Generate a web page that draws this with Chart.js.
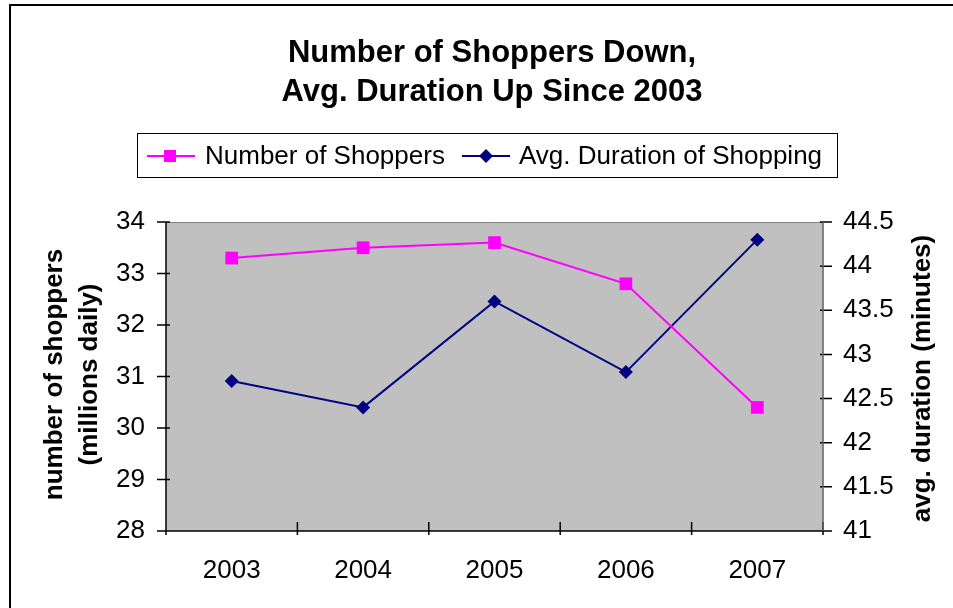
<!DOCTYPE html>
<html>
<head>
<meta charset="utf-8">
<script src="https://cdn.jsdelivr.net/npm/chart.js@4.4.0/dist/chart.umd.min.js"></script>
<style>
  html, body { margin: 0; padding: 0; background: #fff; }
  canvas { display: block; }
</style>
</head>
<body>
<canvas id="chart" width="953" height="608"></canvas>
<script>
// values
const years = ['2003', '2004', '2005', '2006', '2007'];
const shoppers = [33.3, 33.5, 33.6, 32.8, 30.4];      // millions daily, left axis
const duration = [42.7, 42.4, 43.6, 42.8, 44.3];      // minutes, right axis
const titleLines = ['Number of Shoppers Down,', 'Avg. Duration Up Since 2003'];
const leftTitle = ['number of shoppers', '(millions daily)'];
const rightTitle = 'avg. duration (minutes)';

const FONT = '"Liberation Sans", Arial, sans-serif';
const PINK = '#FF00FF';
const NAVY = '#000080';

// frame, gray plot area, axes and tick marks
const plotFrame = {
  id: 'plotFrame',
  beforeDatasetsDraw(chart) {
    const { ctx, chartArea: a, scales } = chart;
    ctx.save();
    ctx.fillStyle = '#C0C0C0';
    ctx.fillRect(a.left, a.top, a.right - a.left, a.bottom - a.top);

    ctx.lineWidth = 1;
    ctx.strokeStyle = '#808080';
    ctx.beginPath();
    ctx.moveTo(a.left, a.top + 0.5); ctx.lineTo(a.right, a.top + 0.5);
    ctx.stroke();

    ctx.strokeStyle = '#000';
    ctx.lineWidth = 1.5;
    ctx.beginPath();
    ctx.moveTo(a.left, a.top); ctx.lineTo(a.left, a.bottom);
    ctx.moveTo(a.left, a.bottom); ctx.lineTo(a.right, a.bottom);
    scales.y.ticks.forEach(t => {
      const y = scales.y.getPixelForValue(t.value);
      ctx.moveTo(a.left - 9, y); ctx.lineTo(a.left + 4, y);
    });
    scales.y1.ticks.forEach(t => {
      const y = scales.y1.getPixelForValue(t.value);
      ctx.moveTo(a.right - 3, y); ctx.lineTo(a.right + 9, y);
    });
    for (let i = 0; i <= years.length; i++) {
      const x = a.left + (a.right - a.left) * i / years.length;
      ctx.moveTo(x, a.bottom - 9); ctx.lineTo(x, a.bottom + 4);
    }
    ctx.stroke();

    ctx.strokeStyle = '#606060';
    ctx.beginPath();
    ctx.moveTo(a.right, a.top); ctx.lineTo(a.right, a.bottom);
    ctx.stroke();
    ctx.restore();
  },
  afterDraw(chart) {
    const { ctx, chartArea: a } = chart;
    ctx.save();
    // outer frame (only left and top visible)
    ctx.strokeStyle = '#000';
    ctx.lineWidth = 2;
    ctx.beginPath();
    ctx.moveTo(10, 608); ctx.lineTo(10, 5); ctx.lineTo(953, 5);
    ctx.stroke();

    // title
    ctx.fillStyle = '#000';
    ctx.textAlign = 'center';
    ctx.textBaseline = 'alphabetic';
    ctx.font = 'bold 31px ' + FONT;
    ctx.fillText(titleLines[0], 492, 62);
    ctx.fillText(titleLines[1], 492, 101);

    // legend
    ctx.lineWidth = 1;
    ctx.strokeRect(137.5, 133.5, 700, 44);
    ctx.font = '26px ' + FONT;
    ctx.textAlign = 'left';
    ctx.textBaseline = 'middle';
    ctx.lineWidth = 2;
    ctx.strokeStyle = PINK;
    ctx.beginPath(); ctx.moveTo(147, 156); ctx.lineTo(195, 156); ctx.stroke();
    ctx.fillStyle = PINK;
    ctx.fillRect(164, 150, 12, 12);
    ctx.fillStyle = '#000';
    ctx.fillText(chart.data.datasets[0].label, 205, 157);
    ctx.strokeStyle = NAVY;
    ctx.beginPath(); ctx.moveTo(462, 156); ctx.lineTo(510, 156); ctx.stroke();
    ctx.fillStyle = NAVY;
    ctx.beginPath();
    ctx.moveTo(486, 149); ctx.lineTo(493, 156); ctx.lineTo(486, 163); ctx.lineTo(479, 156);
    ctx.closePath(); ctx.fill();
    ctx.fillStyle = '#000';
    ctx.fillText(chart.data.datasets[1].label, 519, 157);

    // axis titles, both reading bottom to top
    ctx.font = 'bold 26px ' + FONT;
    ctx.textAlign = 'center';
    const midY = (a.top + a.bottom) / 2;
    ctx.save();
    ctx.translate(55, midY - 2);
    ctx.rotate(-Math.PI / 2);
    ctx.fillText(leftTitle[0], 0, 0);
    ctx.fillText(leftTitle[1], 0, 35);
    ctx.restore();
    ctx.save();
    ctx.translate(923, midY + 2);
    ctx.rotate(-Math.PI / 2);
    ctx.fillText(rightTitle, 0, 0);
    ctx.restore();
    ctx.restore();
  }
};

const tickFont = { family: FONT, size: 26 };

new Chart(document.getElementById('chart'), {
  type: 'line',
  data: {
    labels: years,
    datasets: [
      {
        label: 'Number of Shoppers', data: shoppers, yAxisID: 'y',
        borderColor: PINK, backgroundColor: PINK, borderWidth: 2,
        pointStyle: 'rect', pointRadius: 9, pointBorderWidth: 0, tension: 0,
      },
      {
        label: 'Avg. Duration of Shopping', data: duration, yAxisID: 'y1',
        borderColor: NAVY, backgroundColor: NAVY, borderWidth: 2,
        pointStyle: 'rectRot', pointRadius: 7, pointBorderWidth: 0, tension: 0,
      },
    ],
  },
  options: {
    responsive: false,
    animation: false,
    layout: { padding: { top: 222, left: 0, right: 0, bottom: 0 } },
    plugins: { legend: { display: false }, title: { display: false }, tooltip: { enabled: false } },
    scales: {
      x: {
        offset: true,
        grid: { display: false, drawTicks: false },
        border: { display: false },
        ticks: { color: '#000', font: tickFont, padding: 24, maxRotation: 0 },
        afterFit(s) { s.height = 77; },
      },
      y: {
        position: 'left', min: 28, max: 34,
        grid: { display: false, drawTicks: false },
        border: { display: false },
        ticks: { stepSize: 1, color: '#000', font: tickFont, padding: 21 },
        afterFit(s) { s.width = 166; },
      },
      y1: {
        position: 'right', min: 41, max: 44.5,
        grid: { display: false, drawTicks: false },
        border: { display: false },
        ticks: { stepSize: 0.5, color: '#000', font: tickFont, padding: 20, callback: v => String(v) },
        afterFit(s) { s.width = 130; },
      },
    },
  },
  plugins: [plotFrame],
});
</script>
</body>
</html>
